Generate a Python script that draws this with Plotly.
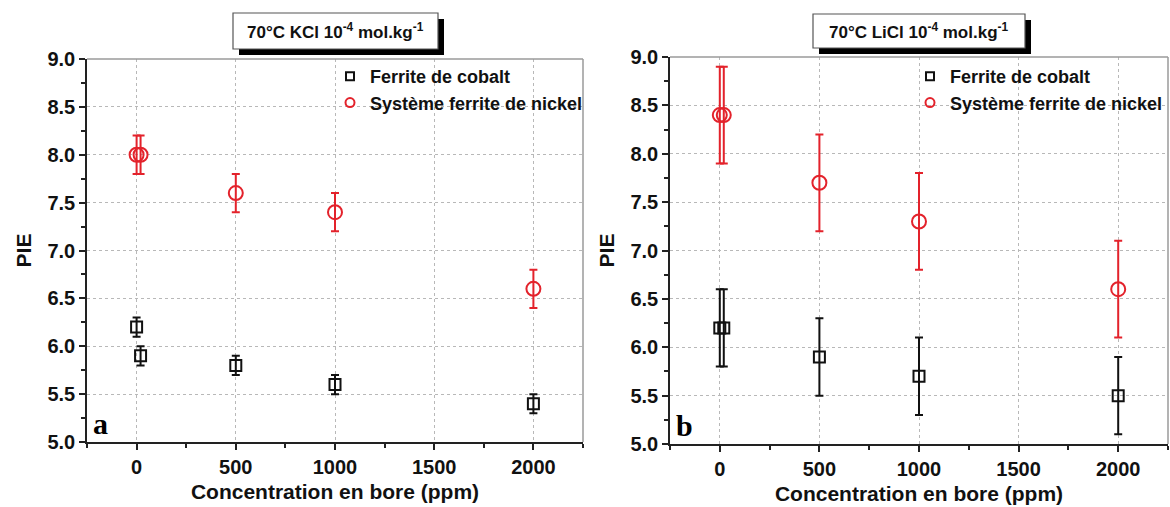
import plotly.graph_objects as go

# ---------------- data ----------------
conc_pts = [0, 20, 500, 1000, 2000]

kcl_cobalt = [6.2, 5.9, 5.8, 5.6, 5.4]
kcl_cobalt_err = [0.1, 0.1, 0.1, 0.1, 0.1]
kcl_nickel = [8.0, 8.0, 7.6, 7.4, 6.6]
kcl_nickel_err = [0.2, 0.2, 0.2, 0.2, 0.2]

licl_cobalt = [6.2, 6.2, 5.9, 5.7, 5.5]
licl_cobalt_err = [0.4, 0.4, 0.4, 0.4, 0.4]
licl_nickel = [8.4, 8.4, 7.7, 7.3, 6.6]
licl_nickel_err = [0.5, 0.5, 0.5, 0.5, 0.5]

x_ticks = [0, 500, 1000, 1500, 2000]
y_ticks = [5.0, 5.5, 6.0, 6.5, 7.0, 7.5, 8.0, 8.5, 9.0]
series_names = ["Ferrite de cobalt", "Système ferrite de nickel"]
titles = ["70°C KCl 10<sup>-4</sup> mol.kg<sup>-1</sup>",
          "70°C LiCl 10<sup>-4</sup> mol.kg<sup>-1</sup>"]
panel_labels = ["a", "b"]
x_title = "Concentration en bore (ppm)"
y_title = "PIE"

# ---------------- style ----------------
SANS = "Liberation Sans, Arial, sans-serif"
SERIF = "Liberation Serif, Times New Roman, serif"
RED = "#e3222b"
BLK = "#111111"

fig = go.Figure()

panels = [
    dict(xa="x", ya="y", co=kcl_cobalt, coe=kcl_cobalt_err, ni=kcl_nickel, nie=kcl_nickel_err, leg="legend"),
    dict(xa="x2", ya="y2", co=licl_cobalt, coe=licl_cobalt_err, ni=licl_nickel, nie=licl_nickel_err, leg="legend2"),
]

for p in panels:
    fig.add_trace(go.Scatter(
        x=conc_pts, y=p["co"], mode="markers", xaxis=p["xa"], yaxis=p["ya"],
        marker=dict(symbol="square-open", size=11, color=BLK, line=dict(width=2, color=BLK)),
        error_y=dict(type="data", array=p["coe"], visible=True, color=BLK, thickness=2, width=4),
        showlegend=False, cliponaxis=False))
    fig.add_trace(go.Scatter(
        x=conc_pts, y=p["ni"], mode="markers", xaxis=p["xa"], yaxis=p["ya"],
        marker=dict(symbol="circle-open", size=14, color=RED, line=dict(width=2, color=RED)),
        error_y=dict(type="data", array=p["nie"], visible=True, color=RED, thickness=2, width=4),
        showlegend=False, cliponaxis=False))
    # legend entries
    fig.add_trace(go.Scatter(
        x=[None], y=[None], mode="markers", xaxis=p["xa"], yaxis=p["ya"], name=series_names[0],
        marker=dict(symbol="square-open", size=8, color=BLK, line=dict(width=2, color=BLK)),
        legend=p["leg"]))
    fig.add_trace(go.Scatter(
        x=[None], y=[None], mode="markers", xaxis=p["xa"], yaxis=p["ya"], name=series_names[1],
        marker=dict(symbol="circle-open", size=9, color=RED, line=dict(width=2, color=RED)),
        legend=p["leg"]))

tickfont = dict(family=SANS, size=20, color="#111", weight="bold")
titlefont = dict(family=SANS, size=21, color="#111", weight="bold")

def xaxis_cfg(domain, anchor):
    return dict(domain=domain, anchor=anchor, range=[-250, 2250], tickvals=x_ticks,
                automargin=False,
                ticks="outside", ticklen=6, tickwidth=1.5, tickcolor="#222",
                minor=dict(ticks="outside", ticklen=4, tickwidth=1.5, tickcolor="#222", dtick=250,
                           tick0=0, showgrid=False),
                showline=True, linecolor="#222", linewidth=1.5,
                showgrid=True, gridcolor="#b8b8b8", griddash="dot", gridwidth=1,
                zeroline=False, tickfont=tickfont,
                title=dict(text=x_title, font=titlefont, standoff=8))

def yaxis_cfg(domain, anchor):
    return dict(domain=domain, anchor=anchor, range=[5.0, 9.0], tickvals=y_ticks,
                tickformat=".1f", automargin=False,
                ticks="outside", ticklen=6, tickwidth=1.5, tickcolor="#222",
                minor=dict(ticks="outside", ticklen=4, tickwidth=1.5, tickcolor="#222", dtick=0.25,
                           tick0=5.0, showgrid=False),
                showline=True, linecolor="#222", linewidth=1.5,
                showgrid=True, gridcolor="#b8b8b8", griddash="dot", gridwidth=1,
                zeroline=False, tickfont=tickfont,
                title=dict(text=y_title, font=titlefont, standoff=10))

W, H = 1170, 507
xd1 = [87 / W, 583 / W]
xd2 = [670 / W, 1168 / W]
yd1 = [1 - 442 / H, 1 - 59 / H]
yd2 = [1 - 444 / H, 1 - 57 / H]

shapes = []
annotations = []
# gray top / right frame lines
for xa, ya in [("x", "y"), ("x2", "y2")]:
    shapes.append(dict(type="line", xref=f"{xa} domain", yref=f"{ya} domain",
                       x0=0, x1=1, y0=1, y1=1, line=dict(color="#9a9a9a", width=1.5)))
    shapes.append(dict(type="line", xref=f"{xa} domain", yref=f"{ya} domain",
                       x0=1, x1=1, y0=0, y1=1, line=dict(color="#9a9a9a", width=1.5)))

# title boxes (pixel geometry -> paper coords)
boxes = [(233, 438, 13, 49), (813, 1025, 14, 48)]
for (l, r, t, b), ttl in zip(boxes, titles):
    shapes.append(dict(type="rect", xref="paper", yref="paper",
                       x0=(l + 6) / W, x1=(r + 6) / W, y0=1 - (b + 6) / H, y1=1 - (t + 6) / H,
                       fillcolor="black", line=dict(width=0)))
    shapes.append(dict(type="rect", xref="paper", yref="paper",
                       x0=l / W, x1=r / W, y0=1 - b / H, y1=1 - t / H,
                       fillcolor="white", line=dict(color="#555", width=1.2)))
    annotations.append(dict(text=ttl, xref="paper", yref="paper",
                            x=(l + r) / 2 / W, y=1 - (t + b) / 2 / H,
                            xanchor="center", yanchor="middle", showarrow=False,
                            font=dict(family=SANS, size=17, color="#111", weight="bold")))

for xa, ya, lab in [("x", "y", panel_labels[0]), ("x2", "y2", panel_labels[1])]:
    annotations.append(dict(text=lab, xref=f"{xa} domain", yref=f"{ya} domain",
                            x=0.008, y=0.0, xanchor="left", yanchor="bottom", showarrow=False,
                            font=dict(family=SERIF, size=30, color="black", weight="bold")))

legfont = dict(family=SANS, size=18, color="#111", weight="bold")
fig.update_layout(
    width=W, height=H,
    margin=dict(l=0, r=0, t=0, b=0, autoexpand=False),
    paper_bgcolor="white", plot_bgcolor="white",
    xaxis=xaxis_cfg(xd1, "y"), yaxis=yaxis_cfg(yd1, "x"),
    xaxis2=xaxis_cfg(xd2, "y2"), yaxis2=yaxis_cfg(yd2, "x2"),
    shapes=shapes, annotations=annotations,
    legend=dict(x=330 / W, y=1 - 58 / H, xanchor="left", yanchor="top",
                bgcolor="rgba(0,0,0,0)", font=legfont, tracegroupgap=0, itemwidth=30),
    legend2=dict(x=910 / W, y=1 - 58 / H, xanchor="left", yanchor="top",
                 bgcolor="rgba(0,0,0,0)", font=legfont, tracegroupgap=0, itemwidth=30),
)

fig.write_html("out.html",
               config={"displayModeBar": False},
               post_script="document.body.style.margin='0';document.body.style.padding='0';")
